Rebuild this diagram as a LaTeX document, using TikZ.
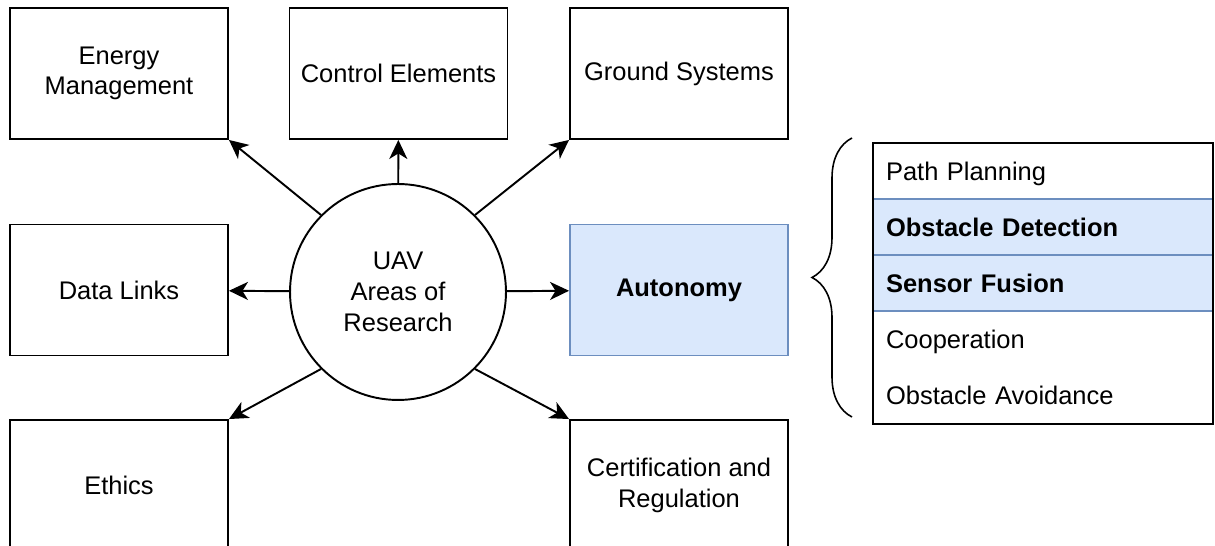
\documentclass[tikz,border=0pt]{standalone}
\usepackage{fontspec}
\setmainfont{Liberation Sans}
\usetikzlibrary{arrows.meta,decorations.pathreplacing}
\definecolor{autofill}{HTML}{DAE8FC}
\definecolor{autodraw}{HTML}{6C8EBF}

\begin{document}
\begin{tikzpicture}[x = 0.02cm, y = -0.02cm,
  every node/.style = {font=\fontsize{14.5}{17.5}\selectfont},
  area/.style = {draw, line width=1.1pt, minimum width=4.36cm, minimum height=2.62cm, align=center},
  hub/.style = {draw, circle, line width=1.1pt, minimum size=4.32cm, align=center},
  topic/.style = {minimum width=6.8cm, minimum height=1.12cm, text width=6.28cm, inner xsep=0.26cm, align=left, text height=10.4pt, text depth=0pt},
  focus/.style = {topic, fill=autofill, draw=autodraw, line width=0.8pt, font=\fontsize{14.5}{17.5}\selectfont\bfseries},
  link/.style = {-{Stealth[length=3.8mm, width=3.6mm, inset=1.1mm]}, line width=1.1pt}]
\useasboundingbox (0,0) rectangle (1215,546);

\node [hub] (uav) at (398,292) {UAV\\Areas of\\Research};

\node [area] (energy) at (119,73.5) {Energy\\Management};
\node [area] (control) at (398.5,73.5) {Control Elements};
\node [area] (ground) at (679,73.5) {Ground Systems};
\node [area] (datalinks) at (119,290) {Data Links};
\node [area, fill=autofill, draw=autodraw, font=\fontsize{14.5}{17.5}\selectfont\bfseries] (autonomy) at (679,290) {Autonomy};
\node [area] (ethics) at (119,485.5) {Ethics};
\node [area] (certification) at (679,485.5) {Certification and\\Regulation};

\draw [link] (uav.135) -- (energy.south east);
\draw [link] (uav) -- (control);
\draw [link] (uav.45) -- (ground.south west);
\draw [link] (uav) -- (datalinks);
\draw [link] (uav) -- (autonomy);
\draw [link] (uav.-135) -- (ethics.north east);
\draw [link] (uav.-45) -- (certification.north west);

\node [topic] (path) at (1043,171) {Path Planning};
\node [focus] (detection) at (1043,227) {Obstacle Detection};
\node [focus] (fusion) at (1043,283) {Sensor Fusion};
\node [topic] (cooperation) at (1043,339) {Cooperation};
\node [topic] (avoidance) at (1043,395.5) {Obstacle Avoidance};
\draw [line width=1.1pt] (path.north west) rectangle (avoidance.south east);

\coordinate (bracelow) at (852,417);
\coordinate (bracehigh) at (852,138);
\draw [decorate, decoration={brace, amplitude=0.8cm}, line width=0.9pt] (bracelow) -- (bracehigh);
\end{tikzpicture}
\end{document}
